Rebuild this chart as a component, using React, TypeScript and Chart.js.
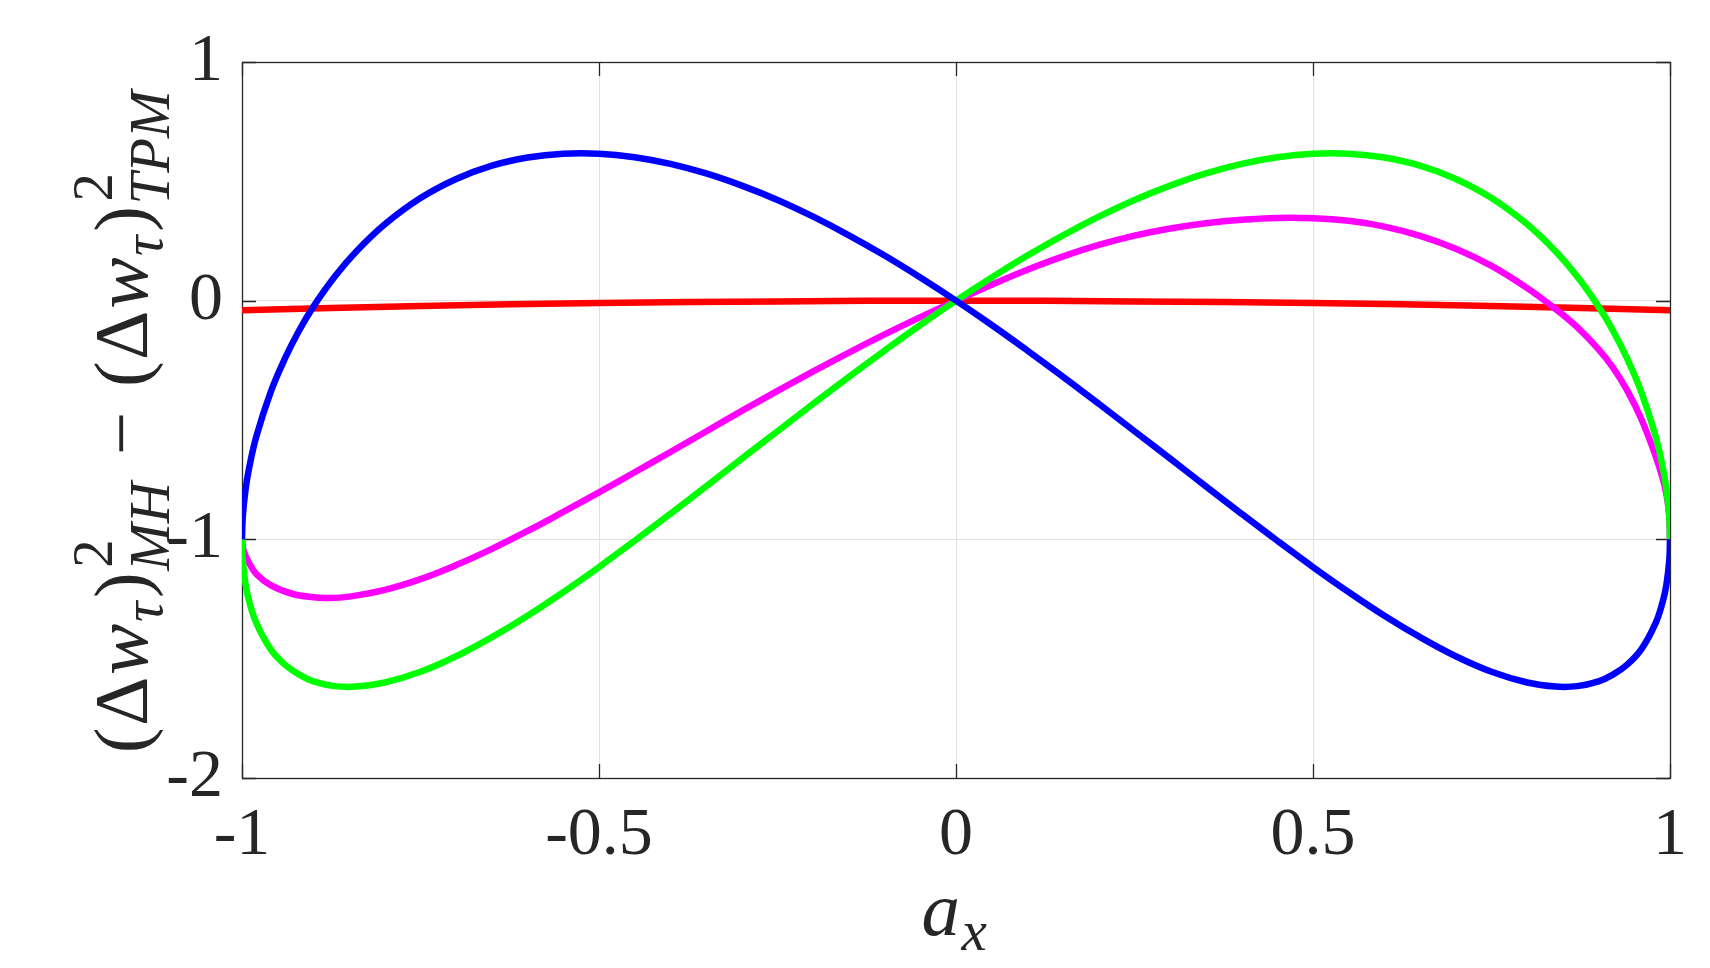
import { useEffect, useRef } from "react"
import { Chart, registerables } from "chart.js"

Chart.register(...registerables)

// a_x samples for the two mirrored curves (blue / green)
const loopX = [
  -1, -0.999, -0.995, -0.99, -0.98, -0.96, -0.94, -0.92, -0.9, -0.87, -0.84,
  -0.8, -0.75, -0.7, -0.65, -0.6, -0.55, -0.5, -0.45, -0.4, -0.35, -0.3, -0.25, -0.2, -0.15, -0.1, -0.05,
  0,
  0.05, 0.1, 0.15, 0.2, 0.25, 0.3, 0.35, 0.4, 0.45, 0.5, 0.55, 0.6, 0.65, 0.7, 0.75, 0.8,
  0.84, 0.87, 0.9, 0.92, 0.94, 0.96, 0.98, 0.99, 0.995, 0.999, 1,
]
const blueY = [
  -1, -0.909, -0.791, -0.701, -0.57, -0.384, -0.243, -0.125, -0.025, 0.101, 0.206,
  0.32, 0.43, 0.51, 0.566, 0.6, 0.616, 0.616, 0.601, 0.573, 0.533, 0.482, 0.422, 0.352, 0.274, 0.189, 0.097,
  0,
  -0.102, -0.209, -0.319, -0.432, -0.547, -0.662, -0.778, -0.893, -1.006, -1.116, -1.221, -1.32, -1.41, -1.49, -1.555, -1.6,
  -1.617, -1.615, -1.595, -1.567, -1.525, -1.46, -1.35, -1.259, -1.189, -1.087, -1,
]
const greenY = [
  -1, -1.087, -1.189, -1.259, -1.35, -1.46, -1.525, -1.567, -1.595, -1.615, -1.617,
  -1.6, -1.555, -1.49, -1.41, -1.32, -1.221, -1.116, -1.006, -0.893, -0.778, -0.662, -0.547, -0.432, -0.319, -0.209, -0.102,
  0,
  0.097, 0.189, 0.274, 0.352, 0.422, 0.482, 0.533, 0.573, 0.601, 0.616, 0.616, 0.6, 0.566, 0.51, 0.43, 0.32,
  0.206, 0.101, -0.025, -0.125, -0.243, -0.384, -0.57, -0.701, -0.791, -0.909, -1,
]

const magentaX = [
  -1, -0.998, -0.99, -0.98, -0.96, -0.93, -0.9, -0.88, -0.85, -0.8, -0.75, -0.7, -0.65, -0.6, -0.55,
  -0.5, -0.45, -0.4, -0.35, -0.3, -0.25, -0.2, -0.15, -0.1, -0.05,
  0,
  0.05, 0.1, 0.15, 0.2, 0.25, 0.3, 0.35, 0.4, 0.45, 0.5, 0.55, 0.6, 0.65, 0.7, 0.75, 0.8,
  0.84, 0.87, 0.9, 0.92, 0.94, 0.96, 0.98, 0.99, 0.995, 0.999, 1,
]
const magentaY = [
  -1, -1.045, -1.1, -1.145, -1.192, -1.228, -1.243, -1.246, -1.24, -1.212, -1.167, -1.108, -1.04, -0.965, -0.885,
  -0.803, -0.719, -0.634, -0.548, -0.462, -0.378, -0.2965, -0.2175, -0.1415, -0.069,
  0,
  0.067, 0.1295, 0.1855, 0.2335, 0.2725, 0.3025, 0.3245, 0.339, 0.3465, 0.3455, 0.3345, 0.3105, 0.2715, 0.2175, 0.1455, 0.0525,
  -0.0355, -0.111, -0.204, -0.28, -0.376, -0.497, -0.652, -0.747, -0.812, -0.9, -1,
]

const redX = [-1, -0.75, -0.5, -0.25, 0, 0.25, 0.5, 0.75, 1]
const redY = [-0.04, -0.022, -0.01, -0.003, 0, -0.003, -0.01, -0.022, -0.04]

const xTicks = [-1, -0.5, 0, 0.5, 1]
const yTicks = [-2, -1, 0, 1]

const ink = "#262626"
const fam = '"Liberation Serif", "DejaVu Serif", serif'
const titleSize = 77

// LaTeX-like labels: plain runs, gaps (in em) and sub/superscript groups
const yTitle = [
  { text: "(" }, { text: "Δ" }, { text: "w", it: true }, { sub: "τ" }, { text: ")" }, { sup: "2", sub: "MH" },
  { gap: 0.3 }, { text: "−" }, { gap: 0.3 },
  { text: "(" }, { text: "Δ" }, { text: "w", it: true }, { sub: "τ" }, { text: ")" }, { sup: "2", sub: "TPM" },
]
const xTitle = [{ text: "a", it: true }, { sub: "x" }]

const fontOf = (it, size) => `${it ? "italic " : ""}${size}px ${fam}`

function layoutRich(ctx, tokens, size) {
  const items = []
  let cur = 0
  const ss = size * 0.74
  for (const tok of tokens) {
    if (tok.gap) {
      cur += tok.gap * size
    } else if (tok.text) {
      const f = fontOf(tok.it, size)
      ctx.font = f
      items.push({ text: tok.text, font: f, x: cur, dy: 0 })
      cur += ctx.measureText(tok.text).width + size * 0.02
    } else {
      let w = 0
      if (tok.sup) {
        const f = fontOf(false, ss)
        ctx.font = f
        items.push({ text: tok.sup, font: f, x: cur + 3, dy: -0.45 * size })
        w = Math.max(w, ctx.measureText(tok.sup).width + 3)
      }
      if (tok.sub) {
        const f = fontOf(true, ss)
        ctx.font = f
        items.push({ text: tok.sub, font: f, x: cur, dy: tok.sup ? 0.28 * size : 0.2 * size })
        w = Math.max(w, ctx.measureText(tok.sub).width)
      }
      cur += w + size * 0.05
    }
  }
  return { items, width: cur }
}

function drawRich(ctx, tokens, cx, baseY, rotate) {
  ctx.save()
  ctx.translate(cx, baseY)
  if (rotate) ctx.rotate(-Math.PI / 2)
  const { items, width } = layoutRich(ctx, tokens, titleSize)
  ctx.fillStyle = ink
  ctx.textBaseline = "alphabetic"
  ctx.textAlign = "left"
  for (const it of items) {
    ctx.font = it.font
    ctx.fillText(it.text, it.x - width / 2, it.dy)
  }
  ctx.restore()
}

const axesDecor = {
  id: "axesDecor",
  beforeDatasetsDraw(chart) {
    const { ctx, chartArea, scales } = chart
    const { left, right, top, bottom } = chartArea
    const len = 14
    ctx.save()
    ctx.strokeStyle = ink
    ctx.lineWidth = 1.3
    ctx.beginPath()
    for (const v of xTicks) {
      const px = Math.round(scales.x.getPixelForValue(v)) + 0.5
      ctx.moveTo(px, bottom); ctx.lineTo(px, bottom - len)
      ctx.moveTo(px, top); ctx.lineTo(px, top + len)
    }
    for (const v of yTicks) {
      const py = Math.round(scales.y.getPixelForValue(v)) + 0.5
      ctx.moveTo(left, py); ctx.lineTo(left + len, py)
      ctx.moveTo(right, py); ctx.lineTo(right - len, py)
    }
    ctx.stroke()
    ctx.strokeRect(Math.round(left) + 0.5, Math.round(top) + 0.5, Math.round(right - left), Math.round(bottom - top))
    ctx.restore()
  },
  afterDraw(chart) {
    const { ctx, chartArea } = chart
    const { left, right, top, bottom } = chartArea
    drawRich(ctx, yTitle, 147, (top + bottom) / 2, true)
    drawRich(ctx, xTitle, (left + right) / 2, 935, false)
  },
}

const line = (xs, ys, color, order) => ({
  data: xs.map((x, i) => ({ x, y: ys[i] })),
  borderColor: color,
  borderWidth: 6.5,
  pointRadius: 0,
  fill: false,
  tension: 0.4,
  borderJoinStyle: "round",
  order,
})

export default function App() {
  const canvasRef = useRef(null)
  const chartRef = useRef(null)

  useEffect(() => {
    if (!canvasRef.current) return
    const tickFont = { family: fam, size: 68 }
    chartRef.current = new Chart(canvasRef.current, {
      type: "line",
      data: {
        datasets: [
          line(loopX, blueY, "#0000ff", 0),
          line(loopX, greenY, "#00ff00", 1),
          line(magentaX, magentaY, "#ff00ff", 2),
          line(redX, redY, "#ff0000", 3),
        ],
      },
      options: {
        animation: false,
        responsive: true,
        maintainAspectRatio: false,
        layout: { padding: { left: 0, right: 40, top: 62, bottom: 0 } },
        plugins: { legend: { display: false }, tooltip: { enabled: false } },
        scales: {
          x: {
            type: "linear",
            min: -1,
            max: 1,
            afterBuildTicks: (s) => { s.ticks = xTicks.map((value) => ({ value })) },
            afterFit: (s) => { s.height = 190 },
            ticks: { color: ink, font: tickFont, padding: 17, maxRotation: 0, autoSkip: false, callback: (v) => String(v) },
            grid: { color: "#e0e0e0", lineWidth: 1, drawTicks: false },
            border: { display: false },
          },
          y: {
            type: "linear",
            min: -2,
            max: 1,
            afterBuildTicks: (s) => { s.ticks = yTicks.map((value) => ({ value })) },
            afterFit: (s) => { s.width = 242 },
            ticks: { color: ink, font: tickFont, padding: 19, callback: (v) => String(v) },
            grid: { color: "#e0e0e0", lineWidth: 1, drawTicks: false },
            border: { display: false },
          },
        },
      },
      plugins: [axesDecor],
    })
    return () => {
      if (chartRef.current) chartRef.current.destroy()
    }
  }, [])

  return (
    <div style={{ position: "fixed", left: 0, top: 0, width: 1710, height: 968, background: "#fff" }}>
      <canvas ref={canvasRef}></canvas>
    </div>
  )
}
